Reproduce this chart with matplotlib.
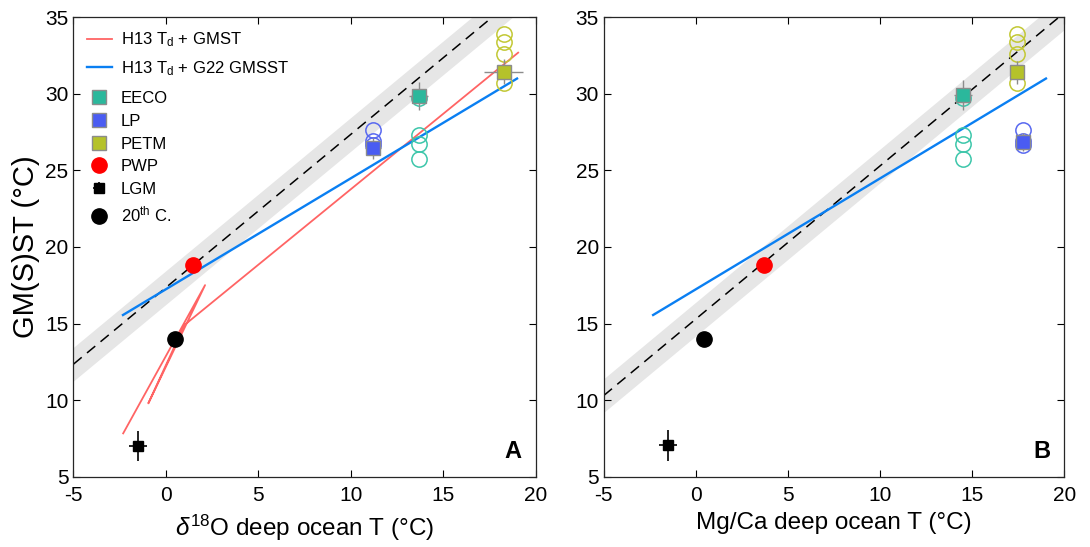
import numpy as np
import matplotlib
matplotlib.use('Agg')
import matplotlib.pyplot as plt
from matplotlib.container import ErrorbarContainer
from matplotlib.legend_handler import HandlerErrorbar

plt.rcParams['font.family'] = ['Liberation Sans', 'DejaVu Sans']
plt.rcParams['mathtext.fontset'] = 'custom'
plt.rcParams['mathtext.rm'] = 'Liberation Sans'
plt.rcParams['mathtext.it'] = 'Liberation Sans:italic'
plt.rcParams['axes.unicode_minus'] = False

# datos lidos da figura
# linha vermelha (H13 Td + GMST), so no painel A
red_x = [-2.31, 2.12, -0.95, 1.0, 19.06]
red_y = [7.83, 17.51, 9.79, 14.9, 32.69]
# linha azul (H13 Td + G22 GMSST)
blue_x = [-2.32, 19.0]
blue_y = [15.56, 31.0]
# linha 1:1 tracejada (offset) e faixa cinza
dash_off = [17.35, 15.3]
band_half = 1.1

# pontos com barras de erro: x, y, xerr, yerr  (painel A, painel B)
eeco = [(13.67, 29.86, 0.5, 0.93), (14.49, 29.92, 0.5, 0.96)]
lp = [(11.23, 26.44, 0.43, 0.7), (17.73, 26.87, 0.25, 0.6)]
petm = [(18.27, 31.45, 1.05, 0.82), (17.45, 31.41, 0.2, 0.76)]
lgm = [(-1.49, 7.0, 0.48, 1.0), (-1.53, 7.05, 0.48, 1.0)]
pwp = [(1.47, 18.82), (3.69, 18.82)]
sec20 = [(0.49, 13.99), (0.46, 13.99)]

# circulos abertos (mesmos y nos dois paineis)
eeco_circ = [29.73, 27.31, 26.72, 25.74]
lp_circ = [27.64, 26.92, 26.66]
petm_circ = [33.91, 33.37, 32.6, 30.69]

c_eeco = '#2bb89c'
c_lp = '#4a5cf2'
c_petm = '#b5c22a'
c_eeco_o = '#3cc6aa'
c_lp_o = '#5868f0'
c_petm_o = '#c2c834'

fig = plt.figure(figsize=(10.9, 5.47), dpi=100)
axA = fig.add_axes([0.0674, 0.1285, 0.4239, 0.8399])
axB = fig.add_axes([0.5539, 0.1285, 0.4226, 0.8399])

xx = np.array([-5, 20])
handles = {}
for i, ax in enumerate([axA, axB]):
    ax.fill_between(xx, xx + dash_off[i] - band_half, xx + dash_off[i] + band_half,
                    color='#e6e6e6', lw=0, zorder=1)
    ax.plot(xx, xx + dash_off[i], '--', color='k', lw=1.1, dashes=(7, 4.5), zorder=2)
    if i == 0:
        hr, = ax.plot(red_x, red_y, color='#ff6464', lw=1.3, zorder=3)
        handles['red'] = hr
    hb, = ax.plot(blue_x, blue_y, color='#0a7ff2', lw=1.7, zorder=3)
    handles['blue'] = hb

    # circulos abertos
    ax.plot([eeco[i][0]] * len(eeco_circ), eeco_circ, 'o', mfc='none', mec=c_eeco_o,
            ms=11, mew=1.1, zorder=4)
    ax.plot([lp[i][0]] * len(lp_circ), lp_circ, 'o', mfc='none', mec=c_lp_o,
            ms=11, mew=1.1, zorder=4)
    ax.plot([petm[i][0]] * len(petm_circ), petm_circ, 'o', mfc='none', mec=c_petm_o,
            ms=11, mew=1.1, zorder=4)

    for key, d, col in [('EECO', eeco, c_eeco), ('LP', lp, c_lp), ('PETM', petm, c_petm)]:
        x, y, xe, ye = d[i]
        h = ax.errorbar(x, y, xerr=xe, yerr=ye, fmt='s', mfc=col, mec='#8c8c8c', ms=10,
                        mew=1, ecolor='#8c8c8c', elinewidth=1, capsize=0, zorder=5)
        handles[key] = h
    h = ax.errorbar(pwp[i][0], pwp[i][1], fmt='o', color='#ff0000', ms=11, zorder=5)
    handles['PWP'] = h
    x, y, xe, ye = lgm[i]
    h = ax.errorbar(x, y, xerr=xe, yerr=ye, fmt='s', color='k', ms=7, elinewidth=1.2,
                    capsize=0, zorder=5)
    handles['LGM'] = h
    h = ax.errorbar(sec20[i][0], sec20[i][1], fmt='o', color='k', ms=11, zorder=5)
    handles['20'] = h

    ax.set_xlim(-5, 20)
    ax.set_ylim(5, 35)
    ax.set_xticks([-5, 0, 5, 10, 15, 20])
    ax.set_yticks([5, 10, 15, 20, 25, 30, 35])
    ax.tick_params(direction='in', top=True, right=True, labelsize=15, length=5, width=0.8)
    ax.tick_params(axis='x', pad=7)
    for s in ax.spines.values():
        s.set_linewidth(0.9)
        s.set_color('#262626')

axA.set_ylabel('GM(S)ST (°C)', fontsize=21, labelpad=4)
axA.set_xlabel(r'$\delta^{18}$O deep ocean T (°C)', fontsize=17.5, labelpad=5)
axB.set_xlabel('Mg/Ca deep ocean T (°C)', fontsize=17.5, labelpad=5)
axA.text(0.97, 0.03, 'A', transform=axA.transAxes, ha='right', va='bottom',
         fontsize=17, fontweight='bold')
axB.text(0.97, 0.03, 'B', transform=axB.transAxes, ha='right', va='bottom',
         fontsize=17, fontweight='bold')

# legenda em duas partes (linhas com mais espaco, como no original)
leg_kw = dict(frameon=False, fontsize=12, handlelength=1.5, handletextpad=0.55,
              borderaxespad=0.4, borderpad=0.4)
leg1 = axA.legend([handles['red'], handles['blue']],
                  [r'H13 T$_\mathregular{d}$ + GMST', r'H13 T$_\mathregular{d}$ + G22 GMSST'],
                  loc='upper left', labelspacing=0.6, **leg_kw)
axA.add_artist(leg1)
mk_h = [handles['EECO'], handles['LP'], handles['PETM'], handles['PWP'], handles['LGM'],
        handles['20']]
mk_l = ['EECO', 'LP', 'PETM', 'PWP', 'LGM', r'20$^\mathregular{th}$ C.']
axA.legend(mk_h, mk_l, loc='upper left', bbox_to_anchor=(0, 0.868), labelspacing=0.46,
           handler_map={ErrorbarContainer: HandlerErrorbar(xerr_size=0.35, yerr_size=0.35)},
           **leg_kw)

fig.savefig('out.png', dpi=100)
